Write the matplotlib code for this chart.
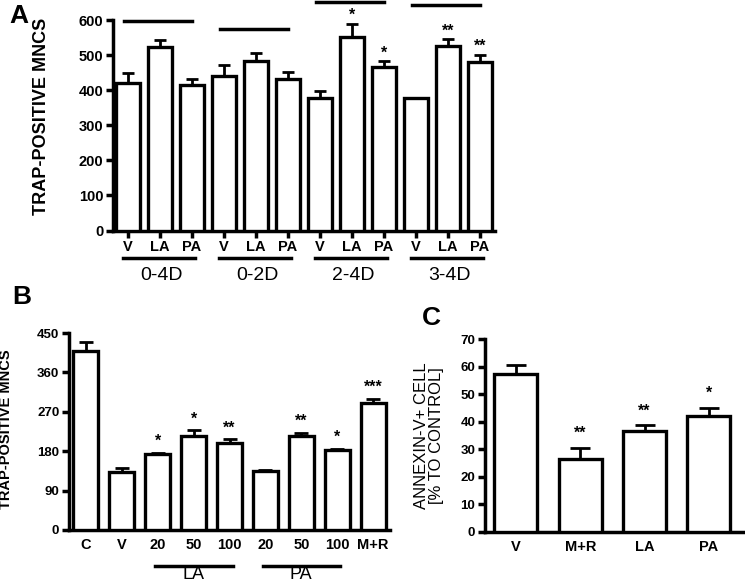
import matplotlib.pyplot as plt
import numpy as np

plt.rcParams['font.family'] = ['Liberation Sans', 'DejaVu Sans']

# panel A: TRAP-positive MNCs by treatment window
a_groups = ["0-4D", "0-2D", "2-4D", "3-4D"]
a_treat = ["V", "LA", "PA"]
a_mean = [421, 522, 415, 439, 484, 433, 377, 552, 465, 378, 525, 481]
a_err = [29, 21, 18, 33, 23, 20, 22, 37, 17, 0, 20, 19]
a_star = ["", "", "", "", "", "", "", "*", "*", "", "**", "**"]
a_top = [598, 575, 650, 642]  # bars drawn above each window

# panel B: dose response
b_labels = ["C", "V", "20", "50", "100", "20", "50", "100", "M+R"]
b_mean = [409, 132, 173, 214, 198, 134, 214, 182, 289]
b_err = [20, 9, 4, 14, 9, 3, 8, 4, 11]
b_star = ["", "", "*", "*", "**", "", "**", "*", "***"]
b_groups = ["LA", "PA"]

# panel C: annexin-V
c_labels = ["V", "M+R", "LA", "PA"]
c_mean = [57.2, 26.6, 36.8, 42.1]
c_err = [3.4, 4.0, 1.9, 3.0]
c_star = ["", "**", "**", "*"]


def draw_bars(ax, means, errs, stars, width, cap, star_off):
    x = np.arange(len(means))
    ax.bar(x, means, width, color="white", edgecolor="black", linewidth=2.4, zorder=3)
    m = np.array(means, float)
    e = np.array(errs, float)
    keep = e > 0
    ax.errorbar(x[keep], m[keep], yerr=[np.zeros(keep.sum()), e[keep]], fmt="none",
                ecolor="black", elinewidth=2, capsize=cap, capthick=2, zorder=2)
    for i, s in enumerate(stars):
        if s:
            ax.annotate(s, (x[i], m[i] + e[i]), xytext=(0, star_off), textcoords="offset points",
                        ha="center", va="center", fontsize=11.5, fontweight="bold")
    for side in ["top", "right"]:
        ax.spines[side].set_visible(False)
    for side in ["left", "bottom"]:
        ax.spines[side].set_linewidth(2.5)
    ax.set_xticks(x)
    return x


fig = plt.figure(figsize=(7.45, 5.83), dpi=100)

# ---- A
axA = fig.add_axes([113/745, 1-230.5/583, 382/745, 210.5/583])
xA = draw_bars(axA, a_mean, a_err, a_star, 0.75, 4.3, 6)
axA.set_xlim(-0.47, 11.47)
axA.set_ylim(0, 600)
axA.set_yticks(range(0, 601, 100))
axA.set_xticklabels(a_treat * 4, fontweight="bold", fontsize=10.5)
axA.tick_params(axis="both", direction="out", length=5, width=2.5, labelsize=10.5, pad=2)
for t in axA.get_yticklabels():
    t.set_fontweight("bold")
axA.set_ylabel("TRAP-POSITIVE MNCS", fontsize=13, fontweight="bold")
axA.yaxis.set_label_coords(-0.165, 0.54)
tr = axA.get_xaxis_transform()
for g, name in enumerate(a_groups):
    axA.plot([g*3 - 0.15, g*3 + 2.1], [-0.129, -0.129], transform=tr, color="black", lw=2.5, clip_on=False)
    axA.text(g*3 + 1.05, -0.215, name, transform=tr, ha="center", va="center", fontsize=14)
    axA.plot([g*3 - 0.12, g*3 + 2.0], [a_top[g], a_top[g]], color="black", lw=2.5, clip_on=False)
fig.text(19/745, 1-16/583, "A", fontsize=19, fontweight="bold", ha="center", va="center")

# ---- B
axB = fig.add_axes([69/745, 1-530/583, 321/745, 197/583])
xB = draw_bars(axB, b_mean, b_err, b_star, 0.7, 5, 8)
axB.set_xlim(-0.47, 8.47)
axB.set_ylim(0, 450)
axB.set_yticks(range(0, 451, 90))
axB.set_xticklabels(b_labels, fontweight="bold", fontsize=10.5)
axB.tick_params(axis="y", direction="out", length=5, width=2.5, labelsize=9.5, pad=2)
axB.tick_params(axis="x", length=0, pad=6)
for t in axB.get_yticklabels():
    t.set_fontweight("bold")
axB.set_ylabel("TRAP-POSITIVE MNCS", fontsize=10.5, fontweight="bold")
axB.yaxis.set_label_coords(-0.175, 0.51)
tr = axB.get_xaxis_transform()
for g, name in enumerate(b_groups):
    axB.plot([2 + g*3 - 0.08, 4 + g*3 + 0.09], [-0.183, -0.183], transform=tr, color="black", lw=2.5, clip_on=False)
    axB.text(3 + g*3, -0.228, name, transform=tr, ha="center", va="center", fontsize=13)
fig.text(22/745, 1-297/583, "B", fontsize=19, fontweight="bold", ha="center", va="center")

# ---- C
axC = fig.add_axes([485/745, 1-532/583, 258/745, 193/583])
xC = draw_bars(axC, c_mean, c_err, c_star, 0.67, 7.5, 10)
axC.set_xlim(-0.48, 3.53)
axC.set_ylim(0, 70)
axC.set_yticks(range(0, 71, 10))
axC.set_xticklabels(c_labels, fontweight="bold", fontsize=10.5)
axC.tick_params(axis="y", direction="out", length=5, width=2.5, labelsize=9.5, pad=2)
axC.tick_params(axis="x", length=0, pad=6)
for t in axC.get_yticklabels():
    t.set_fontweight("bold")
axC.set_ylabel("ANNEXIN-V+ CELL\n[% TO CONTROL]", fontsize=12, linespacing=1.0)
axC.yaxis.set_label_coords(-0.159, 0.50)
fig.text(431/745, 1-318/583, "C", fontsize=19, fontweight="bold", ha="center", va="center")

fig.savefig("out.png", dpi=100)
